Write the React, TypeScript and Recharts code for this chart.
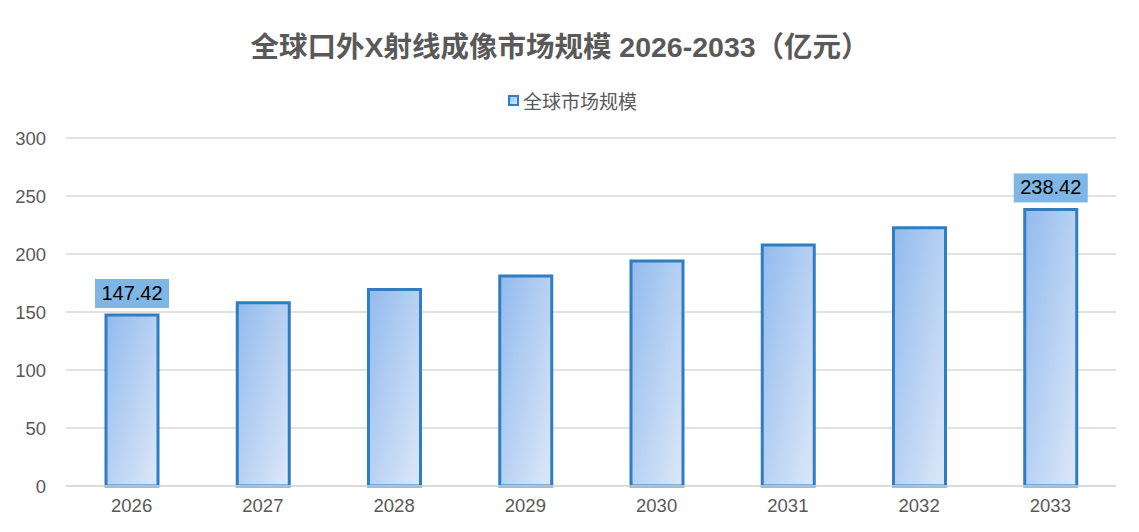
import React from 'react';
import {
  BarChart,
  Bar,
  XAxis,
  YAxis,
  CartesianGrid,
  LabelList,
} from 'recharts';

const years = ['2026', '2027', '2028', '2029', '2030', '2031', '2032', '2033'];
const marketSize = [147.42, 157.9, 169.5, 181.0, 194.0, 207.8, 222.6, 238.42];
const yTicks = [0, 50, 100, 150, 200, 250, 300];
const labelledYears = ['2026', '2033'];

const data = years.map((year, i) => ({ year, value: marketSize[i] }));

const FONT = '"Liberation Sans", Arial, "Noto Sans CJK SC", sans-serif';
const TEXT = '#595959';

const ValueBox = (props: any) => {
  const { x, y, width, value, index } = props;
  if (!labelledYears.includes(years[index])) return null;
  const cx = x + width / 2;
  const w = 74;
  const h = 29;
  const top = y - h - 7;
  return (
    <g>
      <rect x={cx - w / 2} y={top} width={w} height={h} fill="#7EB6E6" />
      <text
        x={cx}
        y={top + h / 2 + 1}
        textAnchor="middle"
        dominantBaseline="middle"
        fontSize={20}
        fontFamily={FONT}
        fill="#000"
      >
        {value.toFixed(2)}
      </text>
    </g>
  );
};

export default function App() {
  if (typeof document !== 'undefined') document.body.style.margin = '0';
  return (
    <div style={{ position: 'relative', width: 1139, height: 532, background: '#fff' }}>
      <div
        style={{
          position: 'absolute',
          top: 24,
          left: 0,
          width: 1120,
          textAlign: 'center',
          fontFamily: FONT,
          fontWeight: 'bold',
          fontSize: 28.5,
          color: TEXT,
        }}
      >
        全球口外X射线成像市场规模 2026-2033（亿元）
      </div>
      <div
        style={{
          position: 'absolute',
          top: 87,
          left: 0,
          width: 1139,
          display: 'flex',
          justifyContent: 'center',
          alignItems: 'center',
          fontFamily: FONT,
          fontSize: 19,
          color: TEXT,
          paddingLeft: 6,
          boxSizing: 'border-box',
        }}
      >
        <span
          style={{
            display: 'inline-block',
            width: 7,
            height: 7,
            border: '2px solid #2F7DC2',
            background: 'linear-gradient(135deg, #9DC0EE, #D6E4F6)',
            marginRight: 4,
          }}
        />
        全球市场规模
      </div>
      <BarChart
        width={1139}
        height={532}
        data={data}
        margin={{ top: 138, right: 23, bottom: 6, left: 0 }}
      >
        <defs>
          <linearGradient id="barFill" x1="0" y1="0" x2="1" y2="1">
            <stop offset="0%" stopColor="#92BAEE" />
            <stop offset="100%" stopColor="#DDE8F8" />
          </linearGradient>
        </defs>
        <CartesianGrid vertical={false} stroke="#D9D9D9" strokeWidth={1.5} />
        <XAxis
          dataKey="year"
          height={40}
          axisLine={{ stroke: '#D9D9D9', strokeWidth: 1.5 }}
          tickLine={false}
          tickMargin={7}
          tick={{ fill: TEXT, fontSize: 18.5, fontFamily: FONT }}
        />
        <YAxis
          width={66}
          domain={[0, 300]}
          ticks={yTicks}
          axisLine={false}
          tickLine={false}
          tickMargin={14}
          tick={{ fill: TEXT, fontSize: 18.5, fontFamily: FONT }}
        />
        <Bar
          dataKey="value"
          barSize={52}
          fill="url(#barFill)"
          stroke="#2F7DC2"
          strokeWidth={3}
          isAnimationActive={false}
        >
          <LabelList dataKey="value" content={<ValueBox />} />
        </Bar>
      </BarChart>
    </div>
  );
}
